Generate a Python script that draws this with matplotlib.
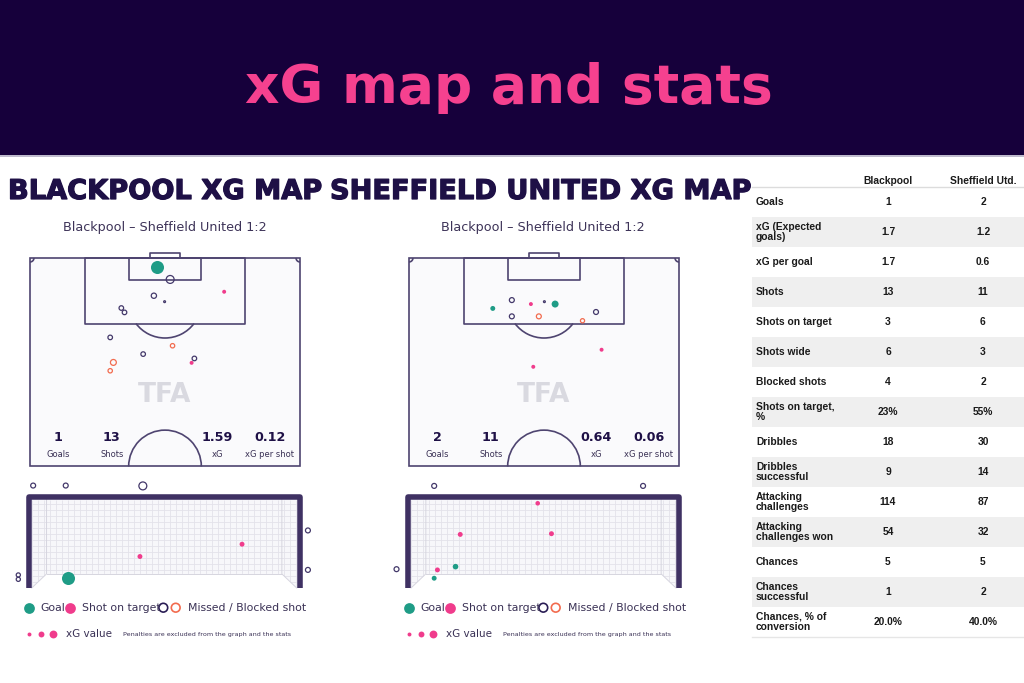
import numpy as np
import matplotlib
matplotlib.use('Agg')
import matplotlib.pyplot as plt
from matplotlib.patches import Rectangle, Arc, Polygon
from matplotlib.collections import LineCollection
import matplotlib.patheffects as pe

W, H = 1024, 683

# --- colours ---
NAVY = '#16003b'
PINK = '#f5418f'
INK = '#1e1046'
LINE = '#4e4470'
TEAL = '#1f9c86'
SHOT_PINK = '#f03c8c'
ORANGE = '#f26b4e'
OPEN = '#43386a'

# --- data ---
header_title = 'xG map and stats'
map_titles = ['BLACKPOOL XG MAP', 'SHEFFIELD UNITED XG MAP']
match_title = 'Blackpool – Sheffield United 1:2'

summary_labels = ['Goals', 'Shots', 'xG', 'xG per shot']
bpl_summary = ['1', '13', '1.59', '0.12']
shu_summary = ['2', '11', '0.64', '0.06']

# shots on the pitch: (metres across, metres from goal line, xG)
bpl_goals = [(31.9, 2.2, 0.49)]
bpl_on_target = [(48.9, 8.5, 0.045), (40.7, 26.4, 0.045)]
bpl_missed = [(35.3, 5.4, 0.18), (31.2, 9.5, 0.08), (33.9, 11.0, 0.01),
              (23.0, 12.6, 0.06), (23.8, 13.7, 0.06), (20.2, 20.0, 0.06),
              (28.5, 24.2, 0.06), (41.4, 25.3, 0.06)]
bpl_blocked = [(35.9, 22.1, 0.055), (21.0, 26.3, 0.10), (20.2, 28.4, 0.055)]

shu_goals = [(36.8, 11.6, 0.14), (21.1, 12.7, 0.07)]
shu_on_target = [(30.7, 11.6, 0.045), (48.5, 23.1, 0.045), (31.3, 27.4, 0.045)]
shu_missed = [(25.9, 10.6, 0.07), (34.1, 11.0, 0.01), (25.9, 14.7, 0.07),
              (47.1, 13.6, 0.07)]
shu_blocked = [(32.7, 14.7, 0.07), (43.7, 15.8, 0.05)]

# shots in the goal mouth: (metres from left post, height in metres, xG)
bpl_gm_goals = [(1.01, 0.27, 0.49)]
bpl_gm_on_target = [(2.99, 0.87, 0.07), (5.81, 1.21, 0.07)]
bpl_gm_missed = [(0.04, 2.83, 0.07), (0.94, 2.83, 0.07), (3.07, 2.82, 0.18),
                 (7.63, 1.59, 0.07), (7.63, 0.50, 0.07),
                 (-0.37, 0.36, 0.05), (-0.37, 0.24, 0.05)]

shu_gm_goals = [(1.23, 0.59, 0.09), (0.64, 0.27, 0.07)]
shu_gm_on_target = [(3.50, 2.34, 0.06), (1.36, 1.48, 0.07),
                    (3.88, 1.50, 0.07), (0.73, 0.50, 0.07)]
shu_gm_missed = [(0.64, 2.82, 0.07), (6.41, 2.82, 0.07), (-0.40, 0.52, 0.07)]

# stats table
table_teams = ['Blackpool', 'Sheffield Utd.']
stat_names = ['Goals', 'xG (Expected\ngoals)', 'xG per goal', 'Shots',
              'Shots on target', 'Shots wide', 'Blocked shots',
              'Shots on target,\n%', 'Dribbles', 'Dribbles\nsuccessful',
              'Attacking\nchallenges', 'Attacking\nchallenges won', 'Chances',
              'Chances\nsuccessful', 'Chances, % of\nconversion']
bpl_stats = ['1', '1.7', '1.7', '13', '3', '6', '4', '23%', '18', '9',
             '114', '54', '5', '1', '20.0%']
shu_stats = ['2', '1.2', '0.6', '11', '6', '3', '2', '55%', '30', '14',
             '87', '32', '5', '2', '40.0%']


def px_axes(fig, left, top, right, bottom):
    ax = fig.add_axes([left / W, 1 - bottom / H, (right - left) / W, (bottom - top) / H])
    ax.axis('off')
    return ax


def xg_size(xg):
    return 180 * np.asarray(xg)


def plot_shots(ax, shots, kind):
    if not shots:
        return
    x, y, xg = zip(*shots)
    s = xg_size(xg)
    if kind == 'goal':
        ax.scatter(x, y, s=s, color=TEAL, lw=0, zorder=5, clip_on=False)
    elif kind == 'on_target':
        ax.scatter(x, y, s=s, color=SHOT_PINK, lw=0, zorder=5, clip_on=False)
    elif kind == 'missed':
        ax.scatter(x, y, s=s, facecolor='none', edgecolor=OPEN, lw=0.9,
                   zorder=5, clip_on=False)
    else:
        ax.scatter(x, y, s=s, facecolor='none', edgecolor=ORANGE, lw=0.9,
                   zorder=5, clip_on=False)


def draw_pitch(fig, x0, summary, shots):
    S = 270 / 68
    y0 = 258
    ax = px_axes(fig, x0 - 8, y0 - 10, x0 + 270 + 8, y0 + 52.5 * S + 8)
    ax.set_xlim(-8 / S, 68 + 8 / S)
    ax.set_ylim(52.5 + 8 / S, -10 / S)
    kw = dict(fill=False, ec=LINE, lw=1.2, zorder=2, joinstyle='round')
    ax.add_patch(Rectangle((0, 0), 68, 52.5, fc='#fafafc', ec=LINE, lw=1.2, zorder=1))
    ax.add_patch(Rectangle((13.84, 0), 40.32, 16.5, **kw))
    ax.add_patch(Rectangle((24.84, 0), 18.32, 5.5, **kw))
    ax.add_patch(Rectangle((30.34, -1.3), 7.32, 1.3, **kw))
    ax.add_patch(Arc((34, 11), 18.3, 18.3, theta1=37, theta2=143, ec=LINE, lw=1.2))
    ax.add_patch(Arc((34, 52.5), 18.3, 18.3, theta1=180, theta2=360, ec=LINE, lw=1.2))
    ax.add_patch(Arc((0, 0), 2, 2, theta1=0, theta2=90, ec=LINE, lw=1.2))
    ax.add_patch(Arc((68, 0), 2, 2, theta1=90, theta2=180, ec=LINE, lw=1.2))
    ax.text(34, 34.6, 'TFA', ha='center', va='center', fontsize=19,
            fontweight='bold', color='#d9d9e0', zorder=2)
    for xm, val, lab in zip([7.05, 20.6, 47.1, 60.4], summary, summary_labels):
        ax.text(xm, 45.3, val, ha='center', va='center', fontsize=9.2,
                fontweight='bold', color=INK, zorder=3)
        ax.text(xm, 49.4, lab, ha='center', va='center', fontsize=6,
                color='#3a3155', zorder=3)
    for kind, pts in shots.items():
        plot_shots(ax, pts, kind)


def draw_goal(fig, gx0, shots):
    G = 265 / 7.32
    ax = px_axes(fig, gx0 - 28, 478, gx0 + 7.32 * G + 28, 596)
    ax.set_xlim(-28 / G, 7.32 + 28 / G)
    ax.set_ylim(-8 / G, 110 / G)
    back_l, back_r, back_b, top = 0.41, 6.91, 0.39, 2.44
    net = Polygon([(0, 0), (back_l, back_b), (back_r, back_b), (7.32, 0),
                   (7.32, top), (0, top)], closed=True, fc='#f7f7fa', ec='none', zorder=1)
    ax.add_patch(net)
    step = 6 / G
    segs = [[(x, 0), (x, top)] for x in np.arange(0, 7.32, step)]
    segs += [[(0, y), (7.32, y)] for y in np.arange(0, top, step)]
    lc = LineCollection(segs, colors='#e3e2ea', lw=0.6, zorder=2)
    ax.add_collection(lc)
    lc.set_clip_path(net)
    ax.plot([0, back_l, back_l], [0, back_b, top], color='#d6d5df', lw=0.7, zorder=2)
    ax.plot([7.32, back_r, back_r], [0, back_b, top], color='#d6d5df', lw=0.7, zorder=2)
    ax.plot([back_l, back_r], [back_b, back_b], color='#d6d5df', lw=0.7, zorder=2)
    ax.plot([-0.08, -0.08, 7.40, 7.40], [0, 2.52, 2.52, 0], color='#3f3163',
            lw=4.0, solid_joinstyle='round', solid_capstyle='butt', zorder=3)
    for kind, pts in shots.items():
        plot_shots(ax, pts, kind)


def draw_legend(bg, x0):
    y1, y2 = 607.7, 634.3
    bg.scatter([x0 + 29.3], [y1], s=60, color=TEAL, lw=0)
    bg.text(x0 + 40.7, y1, 'Goal', va='center', fontsize=7.8, color='#3a3155')
    bg.scatter([x0 + 70.3], [y1], s=60, color=SHOT_PINK, lw=0)
    bg.text(x0 + 81.7, y1, 'Shot on target', va='center', fontsize=7.8, color='#3a3155')
    bg.scatter([x0 + 163.3], [y1], s=40, facecolor='none', edgecolor='#2a1d55', lw=1.2)
    bg.scatter([x0 + 175.7], [y1], s=40, facecolor='none', edgecolor=ORANGE, lw=1.2)
    bg.text(x0 + 187.7, y1, 'Missed / Blocked shot', va='center', fontsize=7.8,
            color='#3a3155')
    for dx, s in zip([29.3, 41.3, 53.3], [8, 18, 32]):
        bg.scatter([x0 + dx], [y2], s=s, color=SHOT_PINK, lw=0)
    bg.text(x0 + 65.7, y2, 'xG value', va='center', fontsize=7.5, color='#3a3155')
    bg.text(x0 + 122.7, y2, 'Penalties are excluded from the graph and the stats',
            va='center', fontsize=4.6, color='#3a3155')


fig = plt.figure(figsize=(W / 100, H / 100), dpi=100, facecolor='white')
bg = fig.add_axes([0, 0, 1, 1])
bg.set_xlim(0, W)
bg.set_ylim(H, 0)
bg.axis('off')

# header band
bg.add_patch(Rectangle((0, 0), W, 155, color=NAVY, lw=0))
bg.plot([0, W], [156, 156], color='#b3aec4', lw=1.2)
bg.text(509, 88, header_title, ha='center', va='center', fontsize=38.5,
        fontweight='bold', color=PINK)

# map titles
stroke = [pe.withStroke(linewidth=0.9, foreground=INK)]
bg.text(8, 192, map_titles[0], ha='left', va='center', fontsize=19.6,
        fontweight='bold', color=INK, path_effects=stroke)
bg.text(330, 192, map_titles[1], ha='left', va='center', fontsize=19.6,
        fontweight='bold', color=INK, path_effects=stroke)
for cx in [165, 543]:
    bg.text(cx, 228, match_title, ha='center', va='center', fontsize=9.2,
            color='#3d3358')

draw_pitch(fig, 30, bpl_summary, {'goal': bpl_goals, 'on_target': bpl_on_target,
                                  'missed': bpl_missed, 'blocked': bpl_blocked})
draw_pitch(fig, 409, shu_summary, {'goal': shu_goals, 'on_target': shu_on_target,
                                   'missed': shu_missed, 'blocked': shu_blocked})
draw_goal(fig, 31.7, {'goal': bpl_gm_goals, 'on_target': bpl_gm_on_target,
                      'missed': bpl_gm_missed})
draw_goal(fig, 411, {'goal': shu_gm_goals, 'on_target': shu_gm_on_target,
                     'missed': shu_gm_missed})
draw_legend(bg, 0)
draw_legend(bg, 380)

# stats table
tfont = dict(family='Liberation Sans', fontweight='bold', color='#1a1a1a')
bg.text(888, 181, table_teams[0], ha='center', va='center', fontsize=7.4, **tfont)
bg.text(983, 181, table_teams[1], ha='center', va='center', fontsize=7.4, **tfont)
bg.plot([752, W], [187, 187], color='#dcdcdc', lw=1)
for i, (name, a, b) in enumerate(zip(stat_names, bpl_stats, shu_stats)):
    top = 186.7 + 30 * i
    yc = top + 15
    if i % 2 == 1:
        bg.add_patch(Rectangle((752, top), W - 752, 30, color='#efefef', lw=0))
    bg.text(756, yc, name, ha='left', va='center', fontsize=7.4,
            linespacing=1.05, **tfont)
    bg.text(888, yc, a, ha='center', va='center', fontsize=7.4, **tfont)
    bg.text(983, yc, b, ha='center', va='center', fontsize=7.4, **tfont)
bg.plot([752, W], [637, 637], color='#e6e6e6', lw=1)

fig.savefig('out.png', dpi=100, facecolor='white')
